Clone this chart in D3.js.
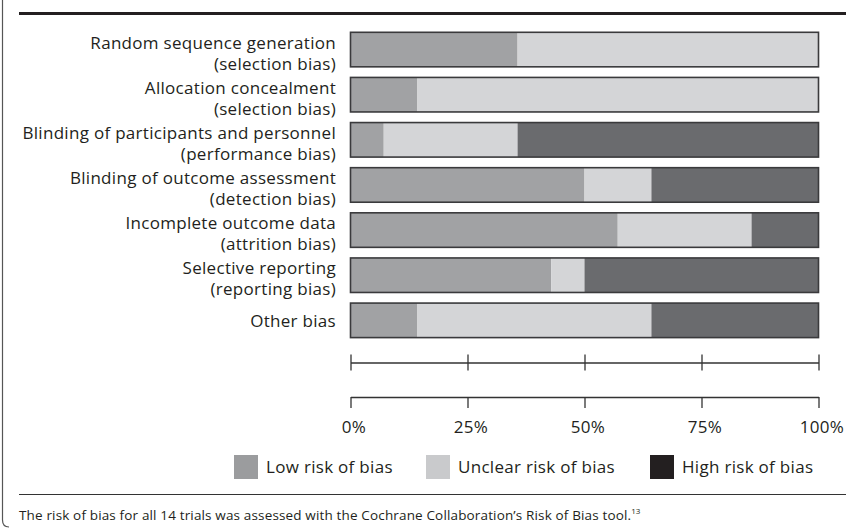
<!DOCTYPE html>
<html>
<head>
<meta charset="utf-8">
<script src="https://cdn.jsdelivr.net/npm/d3@7"></script>
<style>
  html, body { margin: 0; padding: 0; background: #fff; }
  svg { display: block; }
  text { font-family: "Open Sans", sans-serif; fill: #231f20; }
</style>
</head>
<body>
<svg id="chart" width="846" height="528"></svg>
<script>
// ---- data ----
const domains = [
  ["Random sequence generation", "(selection bias)"],
  ["Allocation concealment", "(selection bias)"],
  ["Blinding of participants and personnel", "(performance bias)"],
  ["Blinding of outcome assessment", "(detection bias)"],
  ["Incomplete outcome data", "(attrition bias)"],
  ["Selective reporting", "(reporting bias)"],
  ["Other bias"]
];
const lowRisk     = [35.7, 14.3,  7.1, 50.0, 57.1, 42.9, 14.3];
const unclearRisk = [64.3, 85.7, 28.6, 14.3, 28.6,  7.1, 50.0];
const highRisk    = [ 0.0,  0.0, 64.3, 35.7, 14.3, 50.0, 35.7];
const tickValues  = [0, 25, 50, 75, 100];
const tickLabels  = ["0%", "25%", "50%", "75%", "100%"];
const legendLabels = ["Low risk of bias", "Unclear risk of bias", "High risk of bias"];
const footnote = "The risk of bias for all 14 trials was assessed with the Cochrane Collaboration\u2019s Risk of Bias tool.";
const footnoteRef = "13";

// ---- styles ----
const barColors = ["#a1a2a4", "#d4d5d7", "#6a6b6e"];
const legendColors = ["#9b9c9e", "#c9cacc", "#231f20"];
const labelFont = 17, labelSpacing = 0.3;

const svg = d3.select("#chart");

// frame
svg.append("path")
  .attr("d", "M2.5,0 V520 Q2.5,527 9,527")
  .attr("fill", "none").attr("stroke", "#555").attr("stroke-width", 1.2);
svg.append("line").attr("x1", 19).attr("x2", 846).attr("y1", 13.5).attr("y2", 13.5)
  .attr("stroke", "#231f20").attr("stroke-width", 3);
svg.append("line").attr("x1", 19).attr("x2", 846).attr("y1", 494.5).attr("y2", 494.5)
  .attr("stroke", "#333").attr("stroke-width", 1.2);

// scales
const x = d3.scaleLinear().domain([0, 100]).range([350.5, 818.5]);
const y = d3.scaleBand().domain(d3.range(domains.length))
  .range([32.3, 337.6]).paddingInner(0.235).paddingOuter(0);

const rows = domains.map((d, i) => ({ i, label: d, values: [lowRisk[i], unclearRisk[i], highRisk[i]] }));

const g = svg.append("g");
rows.forEach(r => {
  let acc = 0;
  const segs = r.values.map((v, k) => { const s = { x0: acc, x1: acc + v, k }; acc += v; return s; });
  const rg = g.append("g");
  rg.selectAll("rect.seg").data(segs.filter(s => s.x1 > s.x0)).join("rect")
    .attr("class", "seg")
    .attr("x", s => x(s.x0)).attr("width", s => x(s.x1) - x(s.x0))
    .attr("y", y(r.i)).attr("height", y.bandwidth())
    .attr("fill", s => barColors[s.k]);
  rg.append("rect")
    .attr("x", x(0)).attr("width", x(100) - x(0))
    .attr("y", y(r.i)).attr("height", y.bandwidth())
    .attr("fill", "none").attr("stroke", "#3a3a3c").attr("stroke-width", 1.6);
  const cy = y(r.i) + y.bandwidth() / 2;
  const lines = r.label;
  const t = g.append("text").attr("text-anchor", "end")
    .attr("font-size", labelFont).attr("letter-spacing", labelSpacing);
  if (lines.length === 1) {
    t.append("tspan").attr("x", 336).attr("y", cy + 1).attr("dy", "0.35em").text(lines[0]);
  } else {
    t.append("tspan").attr("x", 336).attr("y", cy - 7).attr("dy", "0.35em").text(lines[0]);
    t.append("tspan").attr("x", 336).attr("y", cy + 14).attr("dy", "0.35em").text(lines[1]);
  }
});

// ghost axis
const ax1 = svg.append("g").attr("transform", "translate(0,362.5)")
  .call(d3.axisBottom(x).tickValues(tickValues).tickSize(0).tickFormat(""));
ax1.select(".domain").attr("stroke", "#333").attr("stroke-width", 1.3);
ax1.selectAll(".tick line").attr("y1", -8).attr("y2", 8).attr("stroke", "#333").attr("stroke-width", 1.3);

// main axis
const ax2 = svg.append("g").attr("transform", "translate(0,397)")
  .call(d3.axisBottom(x).tickValues(tickValues).tickSize(11).tickSizeOuter(0)
    .tickFormat((d, i) => tickLabels[i]));
ax2.select(".domain").attr("stroke", "#333").attr("stroke-width", 1.3);
ax2.selectAll(".tick line").attr("stroke", "#333").attr("stroke-width", 1.3);
ax2.selectAll(".tick text").attr("font-size", labelFont).attr("font-family", "Open Sans")
  .attr("letter-spacing", labelSpacing)
  .attr("fill", "#231f20").attr("y", 35.5).attr("dy", "0").attr("dx", 3);

// legend
const legX = [234, 426, 650];
const leg = svg.append("g");
legendLabels.forEach((l, i) => {
  leg.append("rect").attr("x", legX[i]).attr("y", 455).attr("width", 24).attr("height", 24).attr("fill", legendColors[i]);
  leg.append("text").attr("x", legX[i] + 32).attr("y", 467).attr("dy", "0.35em")
    .attr("font-size", labelFont).attr("letter-spacing", labelSpacing).text(l);
});

// footnote
const fn = svg.append("text").attr("x", 19).attr("y", 520).attr("font-size", 13.5).attr("letter-spacing", 0.15);
fn.append("tspan").text(footnote);
fn.append("tspan").attr("font-size", 8).attr("dy", -6).attr("letter-spacing", 0).text(footnoteRef);
</script>
</body>
</html>
